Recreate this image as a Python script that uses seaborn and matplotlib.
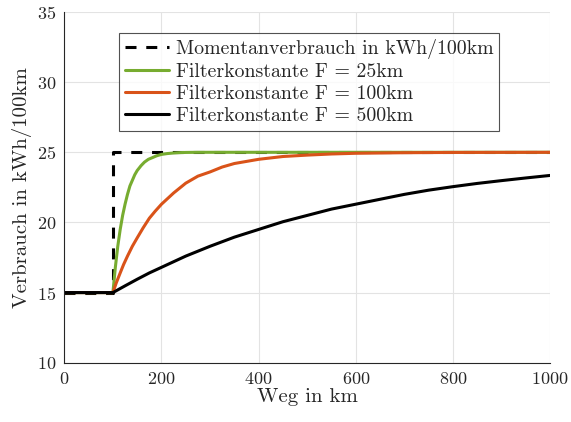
import matplotlib
matplotlib.use("Agg")
import matplotlib.pyplot as plt
import seaborn as sns
import pandas as pd

# Data
step_x = [0, 100, 100, 1000]
step_y = [15, 15, 25, 25]

f25_x = [0, 100, 105, 110, 115, 120, 125, 130, 135, 140, 145, 150, 158, 165, 173,
         180, 190, 200, 212, 225, 240, 250, 275, 300, 1000]
f25_y = [15, 15, 16.8, 18.3, 19.5, 20.5, 21.3, 22.0, 22.6, 23.0, 23.4, 23.7, 24.05,
         24.3, 24.5, 24.6, 24.75, 24.85, 24.91, 24.95, 24.98, 24.99, 25.0, 25.0, 25.0]

f100_x = [0, 100, 107, 115, 122, 130, 140, 150, 162, 175, 187, 200, 225, 250, 275,
          300, 325, 350, 375, 400, 450, 500, 550, 600, 700, 800, 1000]
f100_y = [15, 15, 15.7, 16.4, 17.0, 17.6, 18.3, 18.9, 19.6, 20.3, 20.8, 21.3, 22.1,
          22.8, 23.3, 23.6, 23.95, 24.2, 24.35, 24.5, 24.7, 24.8, 24.88, 24.93, 24.97,
          24.99, 25.0]

f500_x = [0, 100, 125, 150, 175, 200, 250, 300, 350, 400, 450, 500, 550, 600, 650,
          700, 750, 800, 850, 900, 950, 1000]
f500_y = [15, 15, 15.48, 15.95, 16.4, 16.8, 17.6, 18.3, 18.95, 19.5, 20.05, 20.5,
          20.95, 21.3, 21.65, 22.0, 22.3, 22.55, 22.78, 22.98, 23.17, 23.35]

labels = ["Momentanverbrauch in kWh/100km",
          "Filterkonstante F = 25km",
          "Filterkonstante F = 100km",
          "Filterkonstante F = 500km"]
colors = ["black", "#77AC30", "#D95319", "black"]

sns.set_theme(style="white")
plt.rcParams["font.family"] = ["cmr10", "DejaVu Serif"]
plt.rcParams["mathtext.fontset"] = "cm"
plt.rcParams["axes.formatter.use_mathtext"] = True

series = [(step_x, step_y), (f25_x, f25_y), (f100_x, f100_y), (f500_x, f500_y)]
frames = []
for i, ((xs, ys), lab) in enumerate(zip(series, labels)):
    frames.append(pd.DataFrame({"x": xs, "y": ys, "Serie": lab, "ord": range(len(xs))}))
df = pd.concat(frames, ignore_index=True)

fig = plt.figure(figsize=(5.71, 4.22), dpi=100)
ax = fig.add_axes([0.1127, 0.1405, 0.8505, 0.831])

dash_map = {labels[0]: (3.6, 3.2), labels[1]: "", labels[2]: "", labels[3]: ""}
sns.lineplot(data=df, x="x", y="y", hue="Serie", style="Serie", units="Serie",
             hue_order=labels, style_order=labels,
             palette=dict(zip(labels, colors)), dashes=dash_map,
             linewidth=2.2, sort=False, estimator=None, ax=ax)

ax.set_xlim(0, 1000)
ax.set_ylim(10, 35)
ax.set_xticks(range(0, 1001, 200))
ax.set_yticks(range(10, 36, 5))
ax.grid(True, color="#e3e3e3", linewidth=0.8)
ax.set_axisbelow(True)
for s in ["top", "right"]:
    ax.spines[s].set_visible(False)
for s in ["left", "bottom"]:
    ax.spines[s].set_color("#262626")
    ax.spines[s].set_linewidth(0.8)
ax.tick_params(direction="in", length=4, width=0.8, colors="#262626",
               labelsize=13, labelcolor="#262626", pad=6)
ax.set_xlabel("Weg in km", fontsize=15, color="#262626", labelpad=1)
ax.set_ylabel("Verbrauch in kWh/100km", fontsize=15, color="#262626", labelpad=3)

handles, labs = ax.get_legend_handles_labels()
pairs = [(h, l) for h, l in zip(handles, labs) if l in labels]
for h, _ in pairs:
    h.set_linewidth(2.2)
leg = ax.legend([p[0] for p in pairs], [p[1] for p in pairs],
                loc="upper left", bbox_to_anchor=(0.113, 0.94), borderaxespad=0,
                fontsize=14.3, frameon=True, fancybox=False, handlelength=2.2,
                handletextpad=0.35, labelspacing=0.2, borderpad=0.3)
leg.get_frame().set_edgecolor("#262626")
leg.get_frame().set_linewidth(0.8)

fig.savefig("out.png", dpi=100)
